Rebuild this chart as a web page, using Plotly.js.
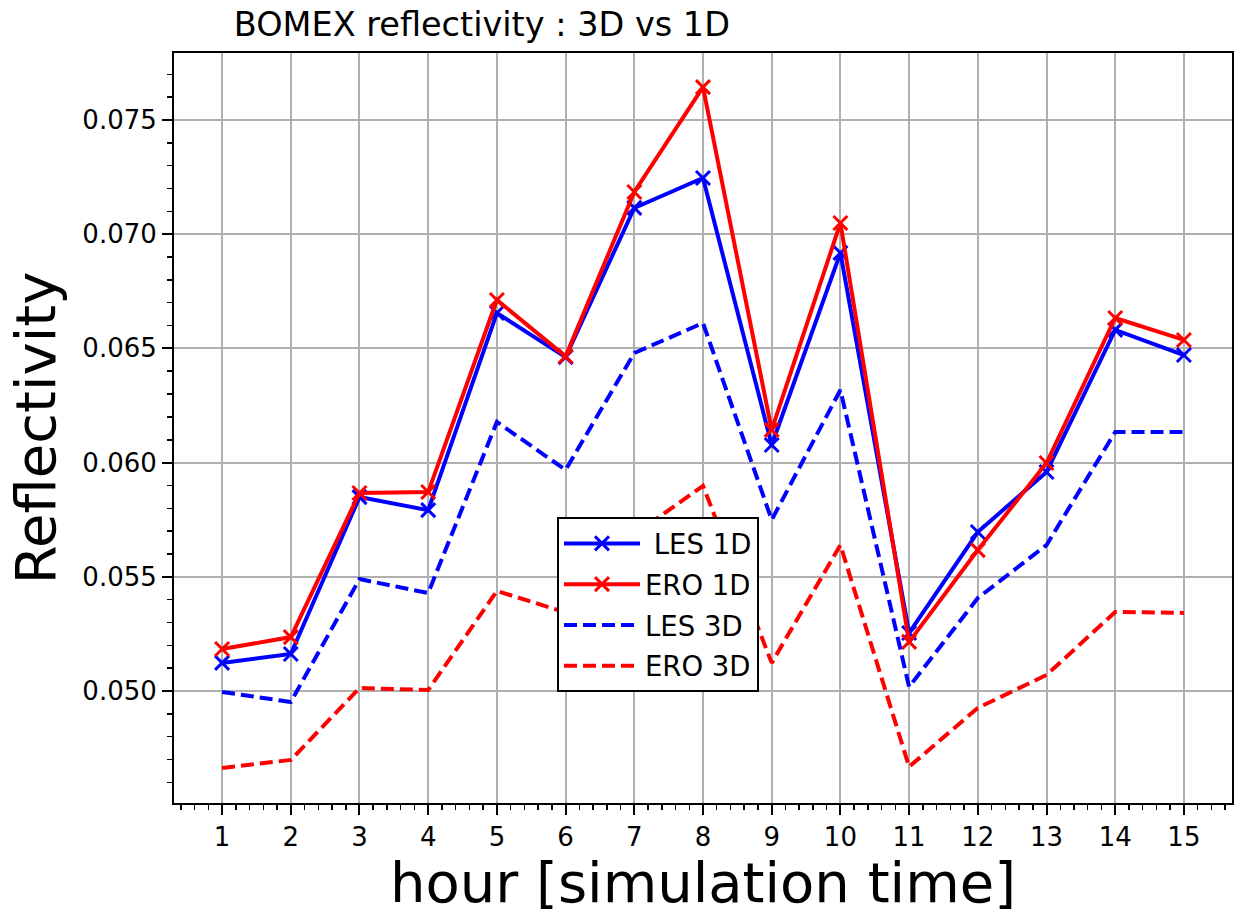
<!DOCTYPE html>
<html>
<head>
<meta charset="utf-8">
<script src="https://cdn.plot.ly/plotly-3.0.1.min.js"></script>
<style>html,body{margin:0;padding:0;background:#fff;}#chart{width:1237px;height:915px;}</style>
</head>
<body>
<div id="chart"></div>
<script>
const hours = [1, 2, 3, 4, 5, 6, 7, 8, 9, 10, 11, 12, 13, 14, 15];
const les1D = [0.05123, 0.05162, 0.05849, 0.05792, 0.06655, 0.06462, 0.07115, 0.07246, 0.06077, 0.06918, 0.05254, 0.05696, 0.05959, 0.06581, 0.06471];
const ero1D = [0.05184, 0.05236, 0.05867, 0.05871, 0.06712, 0.06465, 0.07185, 0.07644, 0.06143, 0.07049, 0.05215, 0.05617, 0.05998, 0.06633, 0.06537];
const les3D = [0.04996, 0.04952, 0.05490, 0.05429, 0.06178, 0.05968, 0.06480, 0.06611, 0.05749, 0.06318, 0.05018, 0.05407, 0.05639, 0.06134, 0.06134];
const ero3D = [0.04663, 0.04698, 0.05013, 0.05004, 0.05438, 0.05344, 0.05685, 0.05898, 0.05123, 0.05639, 0.04668, 0.04926, 0.05070, 0.05346, 0.05342];
const seriesNames = ['\u00a0LES 1D', 'ERO 1D', 'LES 3D', 'ERO 3D'];
const yTickVals = [0.050, 0.055, 0.060, 0.065, 0.070, 0.075];

const FONT = 'DejaVu Sans, Verdana, sans-serif';
const BLUE = '#0000ff', RED = '#ff0000';

const traces = [
  {x: hours, y: les1D, name: seriesNames[0], legendgroup: 'a', mode: 'lines+markers',
   line: {color: BLUE, width: 4}, marker: {symbol: 'x-thin-open', size: 14, line: {color: BLUE, width: 3}}},
  {x: hours, y: ero1D, name: seriesNames[1], legendgroup: 'b', mode: 'lines+markers',
   line: {color: RED, width: 4}, marker: {symbol: 'x-thin-open', size: 14, line: {color: RED, width: 3}}},
  {x: hours, y: les3D, name: seriesNames[2], legendgroup: 'c', mode: 'lines',
   line: {color: BLUE, width: 4, dash: '13px,6px'}},
  {x: hours, y: ero3D, name: seriesNames[3], legendgroup: 'd', mode: 'lines',
   line: {color: RED, width: 4, dash: '13px,6px'}}
];

const layout = {
  width: 1237, height: 915,
  margin: {l: 174, r: 5, t: 53, b: 112},
  paper_bgcolor: '#fff', plot_bgcolor: '#fff',
  font: {family: FONT, color: '#000', size: 26},
  title: {text: 'BOMEX reflectivity : 3D vs 1D', font: {family: FONT, size: 33.5, color: '#000'},
          xref: 'paper', x: 0.291, xanchor: 'center', yref: 'container', y: 0.973, yanchor: 'middle'},
  showlegend: true,
  legend: {x: 0.362, xanchor: 'left', y: 0.3813, yanchor: 'top', bgcolor: '#fff',
           bordercolor: '#000', borderwidth: 2, font: {family: FONT, size: 27.5, color: '#000'},
           traceorder: 'grouped', tracegroupgap: 2, itemwidth: 76},
  xaxis: {
    range: [0.3, 15.7], tickmode: 'linear', tick0: 1, dtick: 1,
    showgrid: true, gridcolor: '#b0b0b0', gridwidth: 2,
    showline: true, linecolor: '#000', linewidth: 2, mirror: true,
    ticks: 'outside', ticklen: 10, tickwidth: 2, tickcolor: '#000',
    tickfont: {family: FONT, size: 26, color: '#000'},
    minor: {dtick: 0.2, tick0: 0, ticks: 'outside', ticklen: 5, tickwidth: 1.5, tickcolor: '#000', showgrid: false},
    zeroline: false,
    title: {text: 'hour [simulation time]', font: {family: FONT, size: 56, color: '#000'}, standoff: 10}
  },
  yaxis: {
    range: [0.045096, 0.077933], tickmode: 'array', tickvals: yTickVals, tickformat: '.3f',
    showgrid: true, gridcolor: '#b0b0b0', gridwidth: 2,
    showline: true, linecolor: '#000', linewidth: 2, mirror: true,
    ticks: 'outside', ticklen: 10, tickwidth: 2, tickcolor: '#000',
    tickfont: {family: FONT, size: 26, color: '#000'},
    minor: {dtick: 0.001, tick0: 0, ticks: 'outside', ticklen: 5, tickwidth: 1.5, tickcolor: '#000', showgrid: false},
    zeroline: false,
    title: {text: 'Reflectivity', font: {family: FONT, size: 56, color: '#000'}, standoff: 9}
  }
};

Plotly.newPlot('chart', traces, layout, {staticPlot: true, displayModeBar: false});
</script>
</body>
</html>
